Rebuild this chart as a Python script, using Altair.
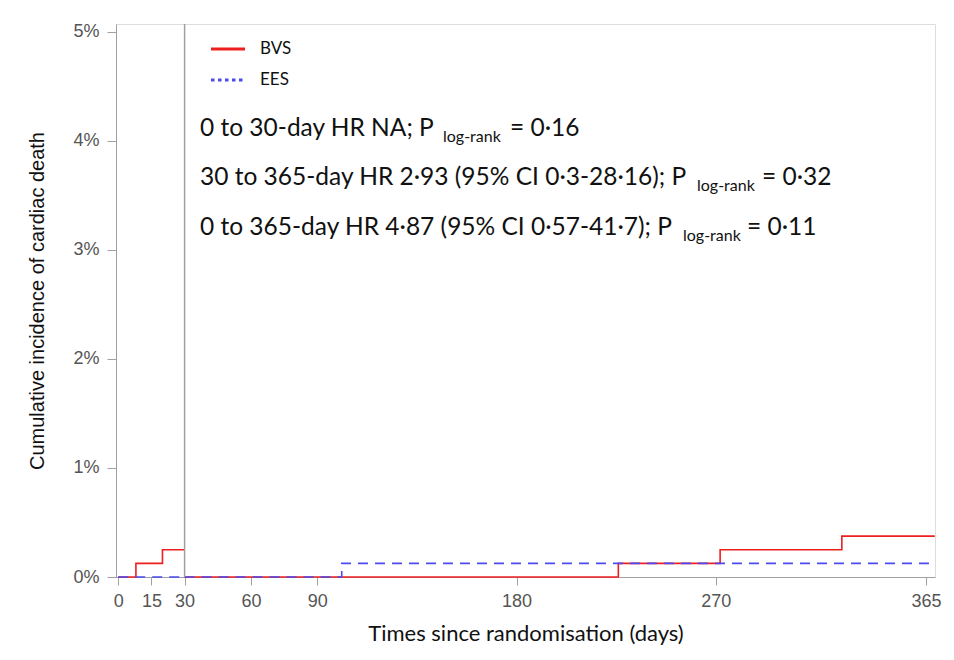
import altair as alt
import pandas as pd

# ---- data (cumulative incidence, %) ----
bvs_days_0_30 = [0, 8, 20, 30]
bvs_pct_0_30 = [0.0, 0.125, 0.25, 0.25]
bvs_days_30_end = [30, 226, 272, 327, 369]
bvs_pct_30_end = [0.0, 0.125, 0.25, 0.375, 0.375]

ees_days_0_30 = [0, 30]
ees_pct_0_30 = [0.0, 0.0]
ees_days_30_end = [30, 101, 369]
ees_pct_30_end = [0.0, 0.125, 0.125]

x_ticks = [0, 15, 30, 60, 90, 180, 270, 365]
y_ticks = [0, 1, 2, 3, 4, 5]
landmark_day = [30]

ann_main = [
    "0 to 30-day HR NA; P",
    "30 to 365-day HR 2·93 (95% CI 0·3-28·16); P",
    "0 to 365-day HR 4·87 (95% CI 0·57-41·7); P",
]
ann_rest = ["= 0·16", "= 0·32", "= 0·11"]
ann_sub = "log-rank"
legend_labels = ["BVS", "EES"]

rows = []
for d, p in zip(bvs_days_0_30, bvs_pct_0_30):
    rows.append({"day": d, "pct": p, "group": "BVS", "seg": "a"})
for d, p in zip(bvs_days_30_end, bvs_pct_30_end):
    rows.append({"day": d, "pct": p, "group": "BVS", "seg": "b"})
for d, p in zip(ees_days_0_30, ees_pct_0_30):
    rows.append({"day": d, "pct": p, "group": "EES", "seg": "a"})
for d, p in zip(ees_days_30_end, ees_pct_30_end):
    rows.append({"day": d, "pct": p, "group": "EES", "seg": "b"})
df = pd.DataFrame(rows)
one = pd.DataFrame({"k": [0]})

W, H = 819, 553
RED = "#ee1f1f"
BLUE = "#4b4bef"
GRAY = "#a0a0a0"
ANN_FONT = "Lato"

xscale = alt.Scale(domain=[-1, 369.1], nice=False, zero=False)
yscale = alt.Scale(domain=[0, 5.073], nice=False, zero=False)

xenc = alt.X(
    "day:Q", scale=xscale,
    axis=alt.Axis(values=x_ticks, title="Times since randomisation (days)", grid=False,
                  domainColor=GRAY, tickColor=GRAY, tickSize=8, labelFontSize=18,
                  labelFont="Liberation Sans", labelColor="#555", labelPadding=7,
                  titleFont=ANN_FONT, titleFontSize=22, titleFontWeight=400,
                  titleColor="#111", titlePadding=13),
)
yenc = alt.Y(
    "pct:Q", scale=yscale,
    axis=alt.Axis(values=y_ticks, labelExpr="datum.value + '%'",
                  title="Cumulative incidence of cardiac death", grid=False,
                  domainColor=GRAY, tickColor=GRAY, tickSize=9, labelFontSize=18,
                  labelFont="Liberation Sans", labelColor="#555", labelPadding=8,
                  titleFont="Liberation Sans", titleFontSize=20, titleFontWeight=400,
                  titleColor="#111", titlePadding=25),
)

base = alt.Chart(df)
red = base.transform_filter(alt.datum.group == "BVS").mark_line(
    interpolate="step-after", color=RED, strokeWidth=1.6
).encode(x=xenc, y=yenc, detail="seg:N")
blue = base.transform_filter(alt.datum.group == "EES").mark_line(
    interpolate="step-after", color=BLUE, strokeWidth=1.6, strokeDash=[10, 7]
).encode(x=xenc, y=yenc, detail="seg:N")

vline = alt.Chart(pd.DataFrame({"day": landmark_day})).mark_rule(
    color=GRAY, strokeWidth=1.5
).encode(x=alt.X("day:Q", scale=xscale))

# legend
leg_red = alt.Chart(one).mark_rule(color=RED, strokeWidth=3).encode(
    x=alt.value(95), x2=alt.value(129), y=alt.value(25))
leg_blue = alt.Chart(one).mark_rule(color=BLUE, strokeWidth=3, strokeDash=[3.5, 3.5]).encode(
    x=alt.value(95), x2=alt.value(129), y=alt.value(56))
leg_txt1 = alt.Chart(one).mark_text(text=legend_labels[0], font=ANN_FONT, fontSize=17,
                                    align="left", baseline="middle", color="#111").encode(
    x=alt.value(144), y=alt.value(25))
leg_txt2 = alt.Chart(one).mark_text(text=legend_labels[1], font=ANN_FONT, fontSize=17,
                                    align="left", baseline="middle", color="#111").encode(
    x=alt.value(144), y=alt.value(56))

# annotations: main text, subscript, rest (placement only)
ann_pos = [(112, 327, 394), (161, 581, 646), (211, 567, 631)]
ann_layers = []
for main, rest, (base_y, sub_x, rest_x) in zip(ann_main, ann_rest, ann_pos):
    ann_layers.append(alt.Chart(one).mark_text(
        text=main, font=ANN_FONT, fontSize=24.5, align="left",
        baseline="alphabetic", color="#111").encode(x=alt.value(84), y=alt.value(base_y)))
    ann_layers.append(alt.Chart(one).mark_text(
        text=ann_sub, font=ANN_FONT, fontSize=16, align="left",
        baseline="alphabetic", color="#111").encode(x=alt.value(sub_x), y=alt.value(base_y + 6)))
    ann_layers.append(alt.Chart(one).mark_text(
        text=rest, font=ANN_FONT, fontSize=24.5, align="left",
        baseline="alphabetic", color="#111").encode(x=alt.value(rest_x), y=alt.value(base_y)))

chart = alt.layer(
    red, blue, vline, leg_red, leg_blue, leg_txt1, leg_txt2, *ann_layers
).properties(
    width=W, height=H,
    autosize=alt.AutoSizeParams(type="none"),
    padding={"left": 108, "top": 16, "right": 10, "bottom": 70},
).configure_view(stroke=GRAY, strokeWidth=1.5).configure(background="white")

chart.save("out.html", embed_options={"renderer": "svg", "actions": False})
